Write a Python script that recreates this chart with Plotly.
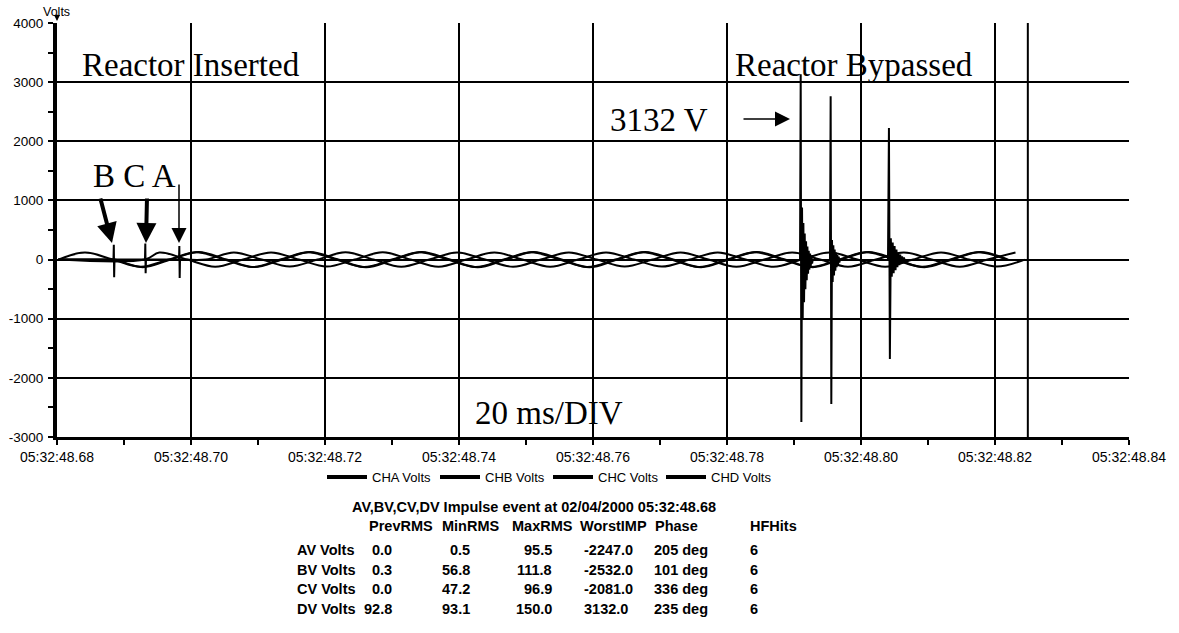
import math
import plotly.graph_objects as go

# ---------------- waveform data (time = seconds past 05:32:48, volts) ----------------
LINE_FREQ_HZ = 60.0
RECORD_START = 0.6802
RECORD_END = 0.8254
END_MARK = 0.8249

CHANNELS = ["CHA Volts", "CHB Volts", "CHC Volts", "CHD Volts"]

# instant each channel goes live, and one positive-going zero crossing of its wave
CH_ON = [0.69821, 0.68843, 0.69313, 0.6802]
CH_ZERO_UP = [0.68556, 0.6803, 0.69111, 0.6800]

# successive half-cycle peak magnitudes of the steady 60 Hz waves
A_PEAKS = [120, 118, 122, 120, 119, 121, 120, 118, 120, 121, 119, 120, 118, 120, 121, 120]
B_PEAKS = [128, 130, 127, 129, 130, 128, 129, 127, 130, 128, 129, 130, 128, 127, 129, 130, 128]
C_PEAKS = [118, 121, 120, 119, 122, 120, 118, 121, 120, 119, 120, 122, 118, 120, 121, 119, 120]
D_PEAKS = [118, 122, 124, 125, 123, 126, 124, 125, 122, 125, 124, 126, 123, 125, 124, 123, 125, 124]
PEAKS = [A_PEAKS, B_PEAKS, C_PEAKS, D_PEAKS]

# switching transients when the reactor is inserted (B, C, A order in time)
INSERT_CH = ["CHB Volts", "CHC Volts", "CHA Volts"]
INSERT_T = [0.68843, 0.69313, 0.69821]
INSERT_SWING = [[0, 250, -300, 0], [0, 270, -230, 0], [0, 230, -310, 0]]
INSERT_STEP = 0.00005

# ringing transients when the reactor is bypassed
BYPASS_CH = ["CHD Volts", "CHB Volts", "CHA Volts"]
BYPASS_T = [0.79090, 0.79537, 0.80403]
BYPASS_STEP = [0.00010, 0.00010, 0.00014]
BYPASS_D = [0, 3132, -2746, 880, -1000, 620, -720, 440, -500, 310, -350, 220, -240,
            150, -170, 100, -110, 70, -70, 0]
BYPASS_B = [0, 2763, -2442, 330, -380, 240, -270, 170, -190, 120, -130, 80, -90, 50, -50, 0]
BYPASS_A = [0, 2224, -1680, 360, -290, 290, -230, 230, -180, 170, -130, 120, -95,
            85, -65, 55, -45, 35, -30, 0]
BYPASS_WAVES = [BYPASS_D, BYPASS_B, BYPASS_A]

# ---------------- axes ----------------
TIME_TICKS = [0.68, 0.70, 0.72, 0.74, 0.76, 0.78, 0.80, 0.82, 0.84]
TIME_LABELS = ["05:32:48.68", "05:32:48.70", "05:32:48.72", "05:32:48.74", "05:32:48.76",
               "05:32:48.78", "05:32:48.80", "05:32:48.82", "05:32:48.84"]
VOLT_TICKS = [-3000, -2000, -1000, 0, 1000, 2000, 3000, 4000]
VOLT_LABELS = ["-3000", "-2000", "-1000", "0", "1000", "2000", "3000", "4000"]

# ---------------- summary table ----------------
TABLE_TITLE = "AV,BV,CV,DV Impulse event at 02/04/2000 05:32:48.68"
TABLE_HEADERS = ["PrevRMS", "MinRMS", "MaxRMS", "WorstIMP", "Phase", "HFHits"]
TABLE_ROWS = ["AV Volts", "BV Volts", "CV Volts", "DV Volts"]
PREV_RMS = [0.0, 0.3, 0.0, 92.8]
MIN_RMS = [0.5, 56.8, 47.2, 93.1]
MAX_RMS = [95.5, 111.8, 96.9, 150.0]
WORST_IMP = [-2247.0, -2532.0, -2081.0, 3132.0]
PHASE_DEG = [205, 101, 336, 235]
HF_HITS = [6, 6, 6, 6]

INK = "black"
SANS = "Liberation Sans, Arial, sans-serif"
SERIF = "Liberation Serif, Times New Roman, serif"
WAVE_W = 2
TABLE_FS = 14.5

W, H = 1179, 633
PLOT_L, PLOT_R, PLOT_T, PLOT_B = 57, 1129, 23, 437


def px(x):
    return (x - PLOT_L) / (PLOT_R - PLOT_L)


def py(y):
    return (PLOT_B - y) / (PLOT_B - PLOT_T)


def steady_wave(on, zero_up, peaks):
    """Keypoints (zero crossings and crests) of a 60 Hz wave from switch-on to record end."""
    q = 1.0 / LINE_FREQ_HZ / 4.0
    xs, ys = [RECORD_START], [0.0]
    if on > RECORD_START:
        xs.append(on)
        ys.append(0.0)
    k = math.ceil((on - zero_up) / q + 1e-9)
    i = 0
    while True:
        t = zero_up + k * q
        if t > RECORD_END or (k % 2 == 1 and i >= len(peaks)):
            break
        if k % 2 == 0:
            v = 0.0
        else:
            v = peaks[i] if k % 4 == 1 else -peaks[i]
            i += 1
        xs.append(t)
        ys.append(v)
        k += 1
    return xs, ys


fig = go.Figure()

# steady waves (smoothed through zero crossings and crests)
for name, on, z0, pk in zip(CHANNELS, CH_ON, CH_ZERO_UP, PEAKS):
    xs, ys = steady_wave(on, z0, pk)
    fig.add_trace(go.Scatter(x=xs, y=ys, mode="lines", name=name, legendgroup=name,
                             showlegend=False, hoverinfo="skip",
                             line=dict(color=INK, width=WAVE_W, shape="spline", smoothing=1)))

# insertion transients
for name, t0, swing in zip(INSERT_CH, INSERT_T, INSERT_SWING):
    fig.add_trace(go.Scatter(x=[t0 + i * INSERT_STEP for i in range(len(swing))], y=swing,
                             mode="lines", legendgroup=name, showlegend=False, hoverinfo="skip",
                             line=dict(color=INK, width=WAVE_W)))

# bypass ringing
for name, t0, dt, wave in zip(BYPASS_CH, BYPASS_T, BYPASS_STEP, BYPASS_WAVES):
    fig.add_trace(go.Scatter(x=[t0 + i * dt for i in range(len(wave))], y=wave,
                             mode="lines", legendgroup=name, showlegend=False, hoverinfo="skip",
                             line=dict(color=INK, width=WAVE_W)))

# legend entries
for name in CHANNELS:
    fig.add_trace(go.Scatter(x=[None], y=[None], mode="lines", name=name, legendgroup=name,
                             line=dict(color=INK, width=4)))

# end-of-record marker
fig.add_shape(type="line", xref="x", yref="paper", x0=END_MARK, x1=END_MARK, y0=0, y1=1,
              line=dict(color=INK, width=2))

minor_x = [(a + b) / 2 for a, b in zip(TIME_TICKS[:-1], TIME_TICKS[1:])]
minor_y = [(a + b) / 2 for a, b in zip(VOLT_TICKS[:-1], VOLT_TICKS[1:])]

fig.update_xaxes(range=[TIME_TICKS[0], TIME_TICKS[-1]], tickmode="array",
                 tickvals=TIME_TICKS, ticktext=TIME_LABELS, automargin=False,
                 showgrid=True, gridcolor=INK, gridwidth=2, zeroline=False,
                 showline=True, linecolor=INK, linewidth=3,
                 ticks="outside", ticklen=5, tickwidth=2, tickcolor=INK,
                 ticklabelstandoff=0,
                 minor=dict(tickmode="array", tickvals=minor_x, ticks="outside",
                            ticklen=5, tickwidth=2, tickcolor=INK, showgrid=False),
                 tickfont=dict(family=SANS, size=14, color=INK))
fig.update_yaxes(range=[VOLT_TICKS[0], VOLT_TICKS[-1]], tickmode="array",
                 tickvals=VOLT_TICKS, ticktext=VOLT_LABELS, automargin=False,
                 showgrid=True, gridcolor=INK, gridwidth=2,
                 zeroline=True, zerolinecolor=INK, zerolinewidth=2,
                 showline=True, linecolor=INK, linewidth=4,
                 ticks="outside", ticklen=5, tickwidth=2, tickcolor=INK,
                 ticklabelstandoff=2,
                 minor=dict(tickmode="array", tickvals=minor_y, ticks="outside",
                            ticklen=5, tickwidth=2, tickcolor=INK, showgrid=False),
                 tickfont=dict(family=SANS, size=13.5, color=INK))

ann = []


def text(x, y, s, size, family=SERIF, anchor="left", bold=False):
    if bold:
        s = "<b>" + s + "</b>"
    ann.append(dict(xref="paper", yref="paper", x=px(x), y=py(y), text=s, showarrow=False,
                    xanchor=anchor, yanchor="middle",
                    font=dict(family=family, size=size, color=INK)))


def arrow(tip, tail, width, size):
    ann.append(dict(xref="paper", yref="paper", x=px(tip[0]), y=py(tip[1]), text="",
                    showarrow=True, axref="pixel", ayref="pixel",
                    ax=tail[0] - tip[0], ay=tail[1] - tip[1],
                    arrowhead=2, arrowsize=size, arrowwidth=width, arrowcolor=INK, standoff=0))


# chart captions
text(80, 65, "Reactor Inserted", 33)
text(733, 65, "Reactor Bypassed", 33)
text(608, 120, "3132 V", 33)
text(91, 176, "B C A", 33)
text(473, 413, "20 ms/DIV", 33)
text(56, 12, "Volts", 12.5, family=SANS, anchor="center")

# pointers
arrow((112, 243), (100, 197), 4, 1)
arrow((146, 243), (147, 197), 4, 1)
arrow((179, 243), (179, 183), 1.5, 2)
arrow((790, 119), (742, 119), 1.5, 2)
arrow((57, 21), (57, 13), 1.2, 1)

# summary table
text(534, 507, TABLE_TITLE, TABLE_FS, family=SANS, anchor="center", bold=True)
for h, x in zip(TABLE_HEADERS, [367, 440, 510, 578, 653, 748]):
    text(x, 526, h, TABLE_FS, family=SANS, bold=True)
for r, (row, p, mn, mx, wi, ph, hf) in enumerate(zip(TABLE_ROWS, PREV_RMS, MIN_RMS, MAX_RMS,
                                                     WORST_IMP, PHASE_DEG, HF_HITS)):
    y = 550 + r * 19.5
    text(295, y, row, TABLE_FS, family=SANS, bold=True)
    text(394, y, f"{p:.1f}", TABLE_FS, family=SANS, anchor="right", bold=True)
    text(472, y, f"{mn:.1f}", TABLE_FS, family=SANS, anchor="right", bold=True)
    text(554, y, f"{mx:.1f}", TABLE_FS, family=SANS, anchor="right", bold=True)
    text(582, y, f"{wi:.1f}", TABLE_FS, family=SANS, bold=True)
    text(652, y, f"{ph} deg", TABLE_FS, family=SANS, bold=True)
    text(748, y, f"{hf}", TABLE_FS, family=SANS, bold=True)

fig.update_layout(
    width=W, height=H,
    margin=dict(l=PLOT_L, r=W - PLOT_R, t=PLOT_T, b=H - PLOT_B, pad=0, autoexpand=False),
    paper_bgcolor="white", plot_bgcolor="white",
    showlegend=True,
    legend=dict(orientation="h", x=px(548), y=py(477), xanchor="center", yanchor="middle",
                font=dict(family=SANS, size=13, color=INK), bgcolor="rgba(0,0,0,0)",
                entrywidthmode="pixels", entrywidth=58, itemwidth=40, tracegroupgap=0),
    annotations=ann,
    hovermode=False,
)

fig.write_html("out.html", config={"displayModeBar": False})
